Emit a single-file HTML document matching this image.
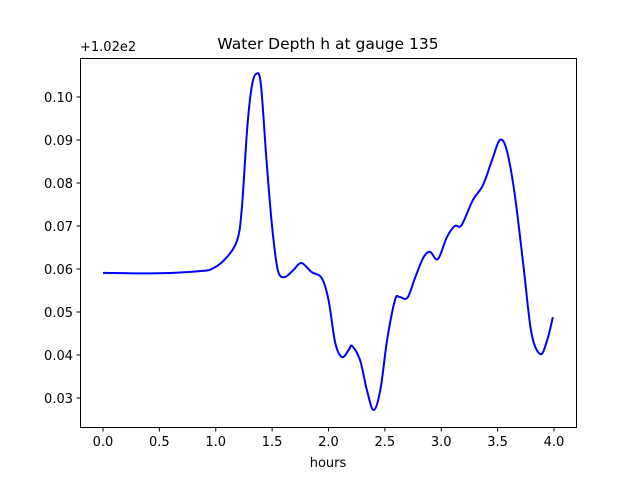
<!DOCTYPE html>
<html><head><meta charset="utf-8"><style>
body{margin:0;background:#fff;font-family:"Liberation Sans","DejaVu Sans",sans-serif}
svg text{font-family:"DejaVu Sans","Liberation Sans",sans-serif;font-size:13px;fill:#000}
</style></head><body>
<svg id="chart" width="640" height="480" xmlns="http://www.w3.org/2000/svg">
<rect x="0" y="0" width="640" height="480" fill="#fff"/>
<text x="328" y="49" text-anchor="middle" style="font-size:15.5px">Water Depth h at gauge 135</text>
<text x="80" y="51" style="font-size:13px">+1.02e2</text>
<g id="ticks"></g>
<path id="line" fill="none" stroke="#0000ff" stroke-width="2"/>
<rect x="80.5" y="58.5" width="496" height="369" fill="none" stroke="#000" stroke-width="1"/>
<text x="328" y="467" text-anchor="middle">hours</text>
</svg>
<script>
const times=[0,0.5,0.86,0.98,1.10,1.19,1.23,1.28,1.32,1.36,1.40,1.45,1.50,1.55,1.61,1.69,1.76,1.85,1.94,2.00,2.06,2.12,2.18,2.21,2.28,2.34,2.40,2.46,2.52,2.59,2.63,2.70,2.77,2.84,2.90,2.97,3.05,3.12,3.18,3.28,3.37,3.45,3.52,3.58,3.65,3.73,3.80,3.88,3.94,3.99];
const depths=[0.0591,0.0590,0.0595,0.0602,0.0628,0.0667,0.0737,0.093,0.1025,0.1054,0.1030,0.0853,0.0698,0.0598,0.0581,0.0598,0.0614,0.0593,0.0579,0.0528,0.0428,0.0395,0.0412,0.0421,0.0388,0.0319,0.0272,0.0319,0.0435,0.0528,0.0535,0.0533,0.0581,0.0626,0.0640,0.0623,0.0674,0.0700,0.0702,0.0760,0.0795,0.0853,0.0900,0.0877,0.0777,0.0605,0.0451,0.0402,0.0435,0.0488];
const xTicks=[0,0.5,1.0,1.5,2.0,2.5,3.0,3.5,4.0];
const yTicks=[0.03,0.04,0.05,0.06,0.07,0.08,0.09,0.10];
const X=t=>103+t*112.75;
const Y=v=>97+(0.10-v)*4300;
const NS="http://www.w3.org/2000/svg";
const g=document.getElementById('ticks');
xTicks.forEach(t=>{
 const l=document.createElementNS(NS,'line');
 
 
 l.setAttribute('x1',X(t));l.setAttribute('x2',X(t));l.setAttribute('y1',427.5);l.setAttribute('y2',431.5);l.setAttribute('stroke','#000');g.appendChild(l);
 const s=document.createElementNS(NS,'text');
 
 
 s.setAttribute('x',X(t));s.setAttribute('y',446);s.setAttribute('text-anchor','middle');s.textContent=t.toFixed(1);g.appendChild(s);
});
yTicks.forEach(v=>{
 const l=document.createElementNS(NS,'line');
 
 
 l.setAttribute('x1',76.5);l.setAttribute('x2',80.5);l.setAttribute('y1',Y(v));l.setAttribute('y2',Y(v));l.setAttribute('stroke','#000');g.appendChild(l);
 const s=document.createElementNS(NS,'text');
 
 
 s.setAttribute('x',73);s.setAttribute('y',Y(v)+5);s.setAttribute('text-anchor','end');s.textContent=v.toFixed(2);g.appendChild(s);
});
const P=times.map((t,i)=>[X(t),Y(depths[i])]);
let d='M'+P[0][0]+','+P[0][1];
for(let i=0;i<P.length-1;i++){
 const p0=P[Math.max(i-1,0)],p1=P[i],p2=P[i+1],p3=P[Math.min(i+2,P.length-1)];
 const c1=[p1[0]+(p2[0]-p0[0])/6,p1[1]+(p2[1]-p0[1])/6];
 const c2=[p2[0]-(p3[0]-p1[0])/6,p2[1]-(p3[1]-p1[1])/6];
 d+=` C${c1[0]},${c1[1]} ${c2[0]},${c2[1]} ${p2[0]},${p2[1]}`;
}
document.getElementById('line').setAttribute('d',d);
</script>
</body></html>
